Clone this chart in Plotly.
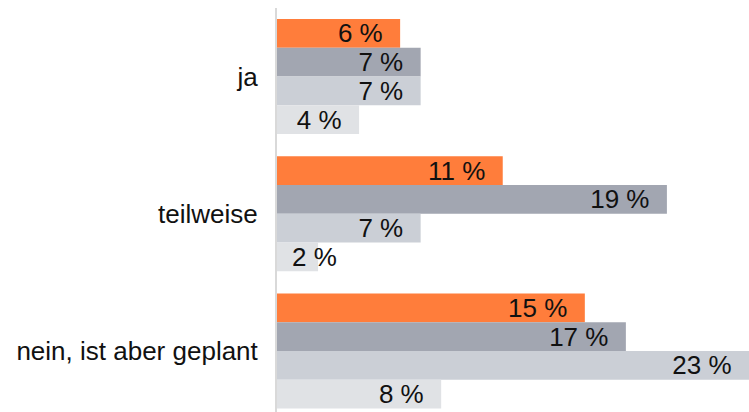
import plotly.graph_objects as go

categories = ["ja", "teilweise", "nein, ist aber geplant"]
series_names = ["Serie 1", "Serie 2", "Serie 3", "Serie 4"]
series_values = [
    [6, 11, 15],
    [7, 19, 17],
    [7, 7, 23],
    [4, 2, 8],
]
series_colors = ["#FF7D3B", "#A2A6B1", "#CBCFD6", "#E0E2E5"]

FONT = "Liberation Sans, Arial, sans-serif"
FS = 26
PAD = "\u00a0\u00a0"

fig = go.Figure()
annotations = []
for i, (name, vals, col) in enumerate(zip(series_names, series_values, series_colors)):
    textpos = []
    for j, v in enumerate(vals):
        if v < 3:
            textpos.append("none")
        else:
            textpos.append("inside")
    fig.add_trace(go.Bar(
        name=name, y=categories, x=vals, orientation="h",
        marker=dict(color=col, line=dict(width=0)),
        texttemplate="%{x} %" + PAD,
        textposition=textpos,
        insidetextanchor="end",
        constraintext="none",
        textfont=dict(family=FONT, size=FS, color="#111111"),
        cliponaxis=False,
        hoverinfo="skip",
    ))

# small bar label that does not fit inside its bar
n_series = len(series_values)
bar_px = 28.75
for i, vals in enumerate(series_values):
    for j, v in enumerate(vals):
        if v < 3:
            offset = (i - (n_series - 1) / 2) * bar_px
            annotations.append(dict(
                x=v, y=categories[j], xref="x", yref="y",
                text=f"{v} %", showarrow=False, xanchor="center",
                yshift=-offset, xshift=-4,
                font=dict(family=FONT, size=FS, color="#111111"),
            ))

fig.update_layout(
    width=749, height=412,
    margin=dict(l=277, r=0, t=8, b=0, autoexpand=False),
    paper_bgcolor="white", plot_bgcolor="white",
    barmode="group", bargap=0.162, bargroupgap=0,
    showlegend=False,
    annotations=annotations,
    xaxis=dict(range=[0, 23.0], showgrid=False, zeroline=False,
               showticklabels=False, showline=False, fixedrange=True,
               automargin=False),
    yaxis=dict(range=[2.4444, -0.4991], showgrid=False, zeroline=False,
               showline=True, linecolor="#D9D9D9", linewidth=2,
               ticks="", ticklabelstandoff=12, automargin=False,
               tickfont=dict(family=FONT, size=FS, color="#111111"),
               fixedrange=True),
)

fig.write_html(
    "out.html",
    config={"displayModeBar": False},
    post_script="document.body.style.margin='0';document.body.style.overflow='hidden';",
)
